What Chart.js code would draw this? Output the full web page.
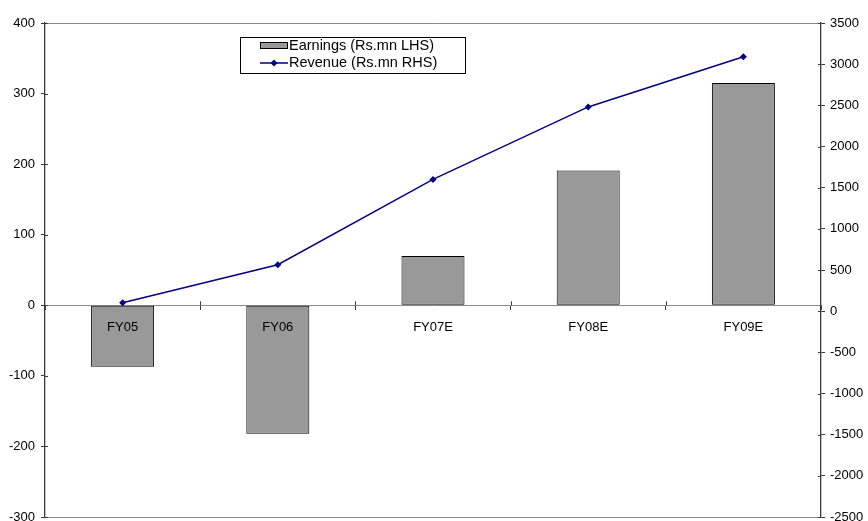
<!DOCTYPE html>
<html>
<head>
<meta charset="utf-8">
<script src="https://cdn.jsdelivr.net/npm/chart.js@4/dist/chart.umd.min.js"></script>
<style>
  html, body { margin: 0; padding: 0; background: #fff; overflow: hidden; }
  #wrap { width: 868px; height: 521px; }
</style>
</head>
<body>
<div id="wrap"><canvas id="c" width="868" height="521"></canvas></div>
<script>
// Fiscal years
const categories = ['FY05', 'FY06', 'FY07E', 'FY08E', 'FY09E'];
// Earnings, Rs.mn (left axis)
const earnings = [-87, -182, 70, 191, 315];
// Revenue, Rs.mn (right axis)
const revenue = [102, 564, 1600, 2480, 3090];
// Axis ranges and steps
const leftAxis = { min: -300, max: 400, step: 100 };
const rightAxis = { min: -2500, max: 3500, step: 500 };
const seriesLabels = ['Earnings (Rs.mn LHS)', 'Revenue (Rs.mn RHS)'];

const FONT = '"Liberation Sans", Arial, sans-serif';
const AXIS_DARK = '#3a3a3a';
const AXIS_GRAY = '#8a8a8a';

// Tick marks that cross the axis line: draw the inner half
const crossTicks = {
  id: 'crossTicks',
  afterDraw(chart) {
    const ctx = chart.ctx;
    const y = chart.scales.y, y1 = chart.scales.y1, x = chart.scales.x;
    ctx.save();
    ctx.lineWidth = 1;
    ctx.strokeStyle = AXIS_DARK;
    y.ticks.forEach(t => {
      const p = Math.round(y.getPixelForValue(t.value)) + 0.5;
      ctx.beginPath(); ctx.moveTo(y.right, p); ctx.lineTo(y.right + 3, p); ctx.stroke();
    });
    y1.ticks.forEach(t => {
      const p = Math.round(y1.getPixelForValue(t.value)) + 0.5;
      ctx.beginPath(); ctx.moveTo(y1.left - 3, p); ctx.lineTo(y1.left, p); ctx.stroke();
    });
    const zy = y.getPixelForValue(0);
    for (let i = 1; i < categories.length; i++) {
      const px = Math.round((x.getPixelForValue(i - 1) + x.getPixelForValue(i)) / 2) + 0.5;
      ctx.beginPath(); ctx.moveTo(px, zy - 4); ctx.lineTo(px, zy); ctx.stroke();
    }
    ctx.restore();
  }
};

// Boxed legend inside the plot area
const boxLegend = {
  id: 'boxLegend',
  afterDraw(chart) {
    const ctx = chart.ctx;
    const ds = chart.data.datasets;
    const barDs = ds.find(d => d.type === 'bar');
    const lineDs = ds.find(d => d.type === 'line');
    const bx = 240.5, by = 37.5, bw = 225, bh = 36;
    ctx.save();
    ctx.fillStyle = '#fff';
    ctx.fillRect(bx, by, bw, bh);
    ctx.strokeStyle = '#000';
    ctx.lineWidth = 1;
    ctx.strokeRect(bx, by, bw, bh);
    // bar swatch
    ctx.fillStyle = barDs.backgroundColor;
    ctx.fillRect(260.5, 42.5, 27, 6);
    ctx.strokeStyle = barDs.borderColor;
    ctx.strokeRect(260.5, 42.5, 27, 6);
    // line swatch with marker
    ctx.strokeStyle = lineDs.borderColor;
    ctx.lineWidth = 1.5;
    ctx.beginPath(); ctx.moveTo(260, 63); ctx.lineTo(288, 63); ctx.stroke();
    ctx.fillStyle = lineDs.pointBackgroundColor;
    ctx.beginPath();
    ctx.moveTo(274, 59.5); ctx.lineTo(277.5, 63); ctx.lineTo(274, 66.5); ctx.lineTo(270.5, 63);
    ctx.closePath(); ctx.fill();
    ctx.fillStyle = '#000';
    ctx.font = '14.5px ' + FONT;
    ctx.textBaseline = 'middle';
    ctx.fillText(barDs.label, 289, 45.5);
    ctx.fillText(lineDs.label, 289, 63);
    ctx.restore();
  }
};

function fixWidth(w) {
  return function (scale) {
    scale.width = w;
    scale.paddingTop = 0;
    scale.paddingBottom = 0;
  };
}

new Chart(document.getElementById('c'), {
  type: 'bar',
  data: {
    labels: categories,
    datasets: [
      {
        type: 'line',
        label: seriesLabels[1],
        data: revenue,
        yAxisID: 'y1',
        borderColor: '#000080',
        borderWidth: 1.4,
        backgroundColor: '#000080',
        pointBackgroundColor: '#000080',
        pointBorderColor: '#000080',
        pointStyle: 'rectRot',
        pointRadius: 3.5,
        pointBorderWidth: 0,
        tension: 0,
        fill: false,
        order: 0
      },
      {
        type: 'bar',
        label: seriesLabels[0],
        data: earnings,
        yAxisID: 'y',
        backgroundColor: '#999999',
        borderColor: '#000000',
        borderWidth: 1,
        borderSkipped: false,
        categoryPercentage: 1,
        barPercentage: 0.406,
        order: 1
      }
    ]
  },
  options: {
    responsive: false,
    animation: false,
    devicePixelRatio: 1,
    layout: { padding: { top: 23, bottom: 3, left: 0, right: 0 } },
    plugins: {
      legend: { display: false },
      tooltip: { enabled: false }
    },
    scales: {
      x: {
        position: { y: 0 },
        offset: true,
        grid: {
          offset: true,
          drawOnChartArea: false,
          drawTicks: true,
          tickLength: 4,
          tickColor: AXIS_DARK
        },
        border: { color: AXIS_GRAY, width: 1 },
        ticks: {
          z: 1,
          color: '#000',
          font: { family: FONT, size: 13 },
          padding: 10,
          maxRotation: 0
        },
        afterFit(scale) { scale.paddingLeft = 0; scale.paddingRight = 0; }
      },
      y: {
        position: 'left',
        min: leftAxis.min,
        max: leftAxis.max,
        ticks: {
          stepSize: leftAxis.step,
          color: '#000',
          font: { family: FONT, size: 13 },
          padding: 6,
          callback: v => String(v)
        },
        grid: {
          drawTicks: true,
          tickLength: 4,
          tickColor: AXIS_DARK,
          color: ctx => (ctx.tick && (ctx.tick.value === leftAxis.max || ctx.tick.value === leftAxis.min)) ? AXIS_GRAY : 'rgba(0,0,0,0)'
        },
        border: { color: AXIS_DARK, width: 1.3 },
        afterFit: fixWidth(45)
      },
      y1: {
        position: 'right',
        min: rightAxis.min,
        max: rightAxis.max,
        ticks: {
          stepSize: rightAxis.step,
          color: '#000',
          font: { family: FONT, size: 13 },
          padding: 5,
          callback: v => String(v)
        },
        grid: {
          drawOnChartArea: false,
          drawTicks: true,
          tickLength: 4,
          tickColor: AXIS_DARK
        },
        border: { color: AXIS_DARK, width: 1.3 },
        afterFit: fixWidth(47)
      }
    }
  },
  plugins: [crossTicks, boxLegend]
});
</script>
</body>
</html>
